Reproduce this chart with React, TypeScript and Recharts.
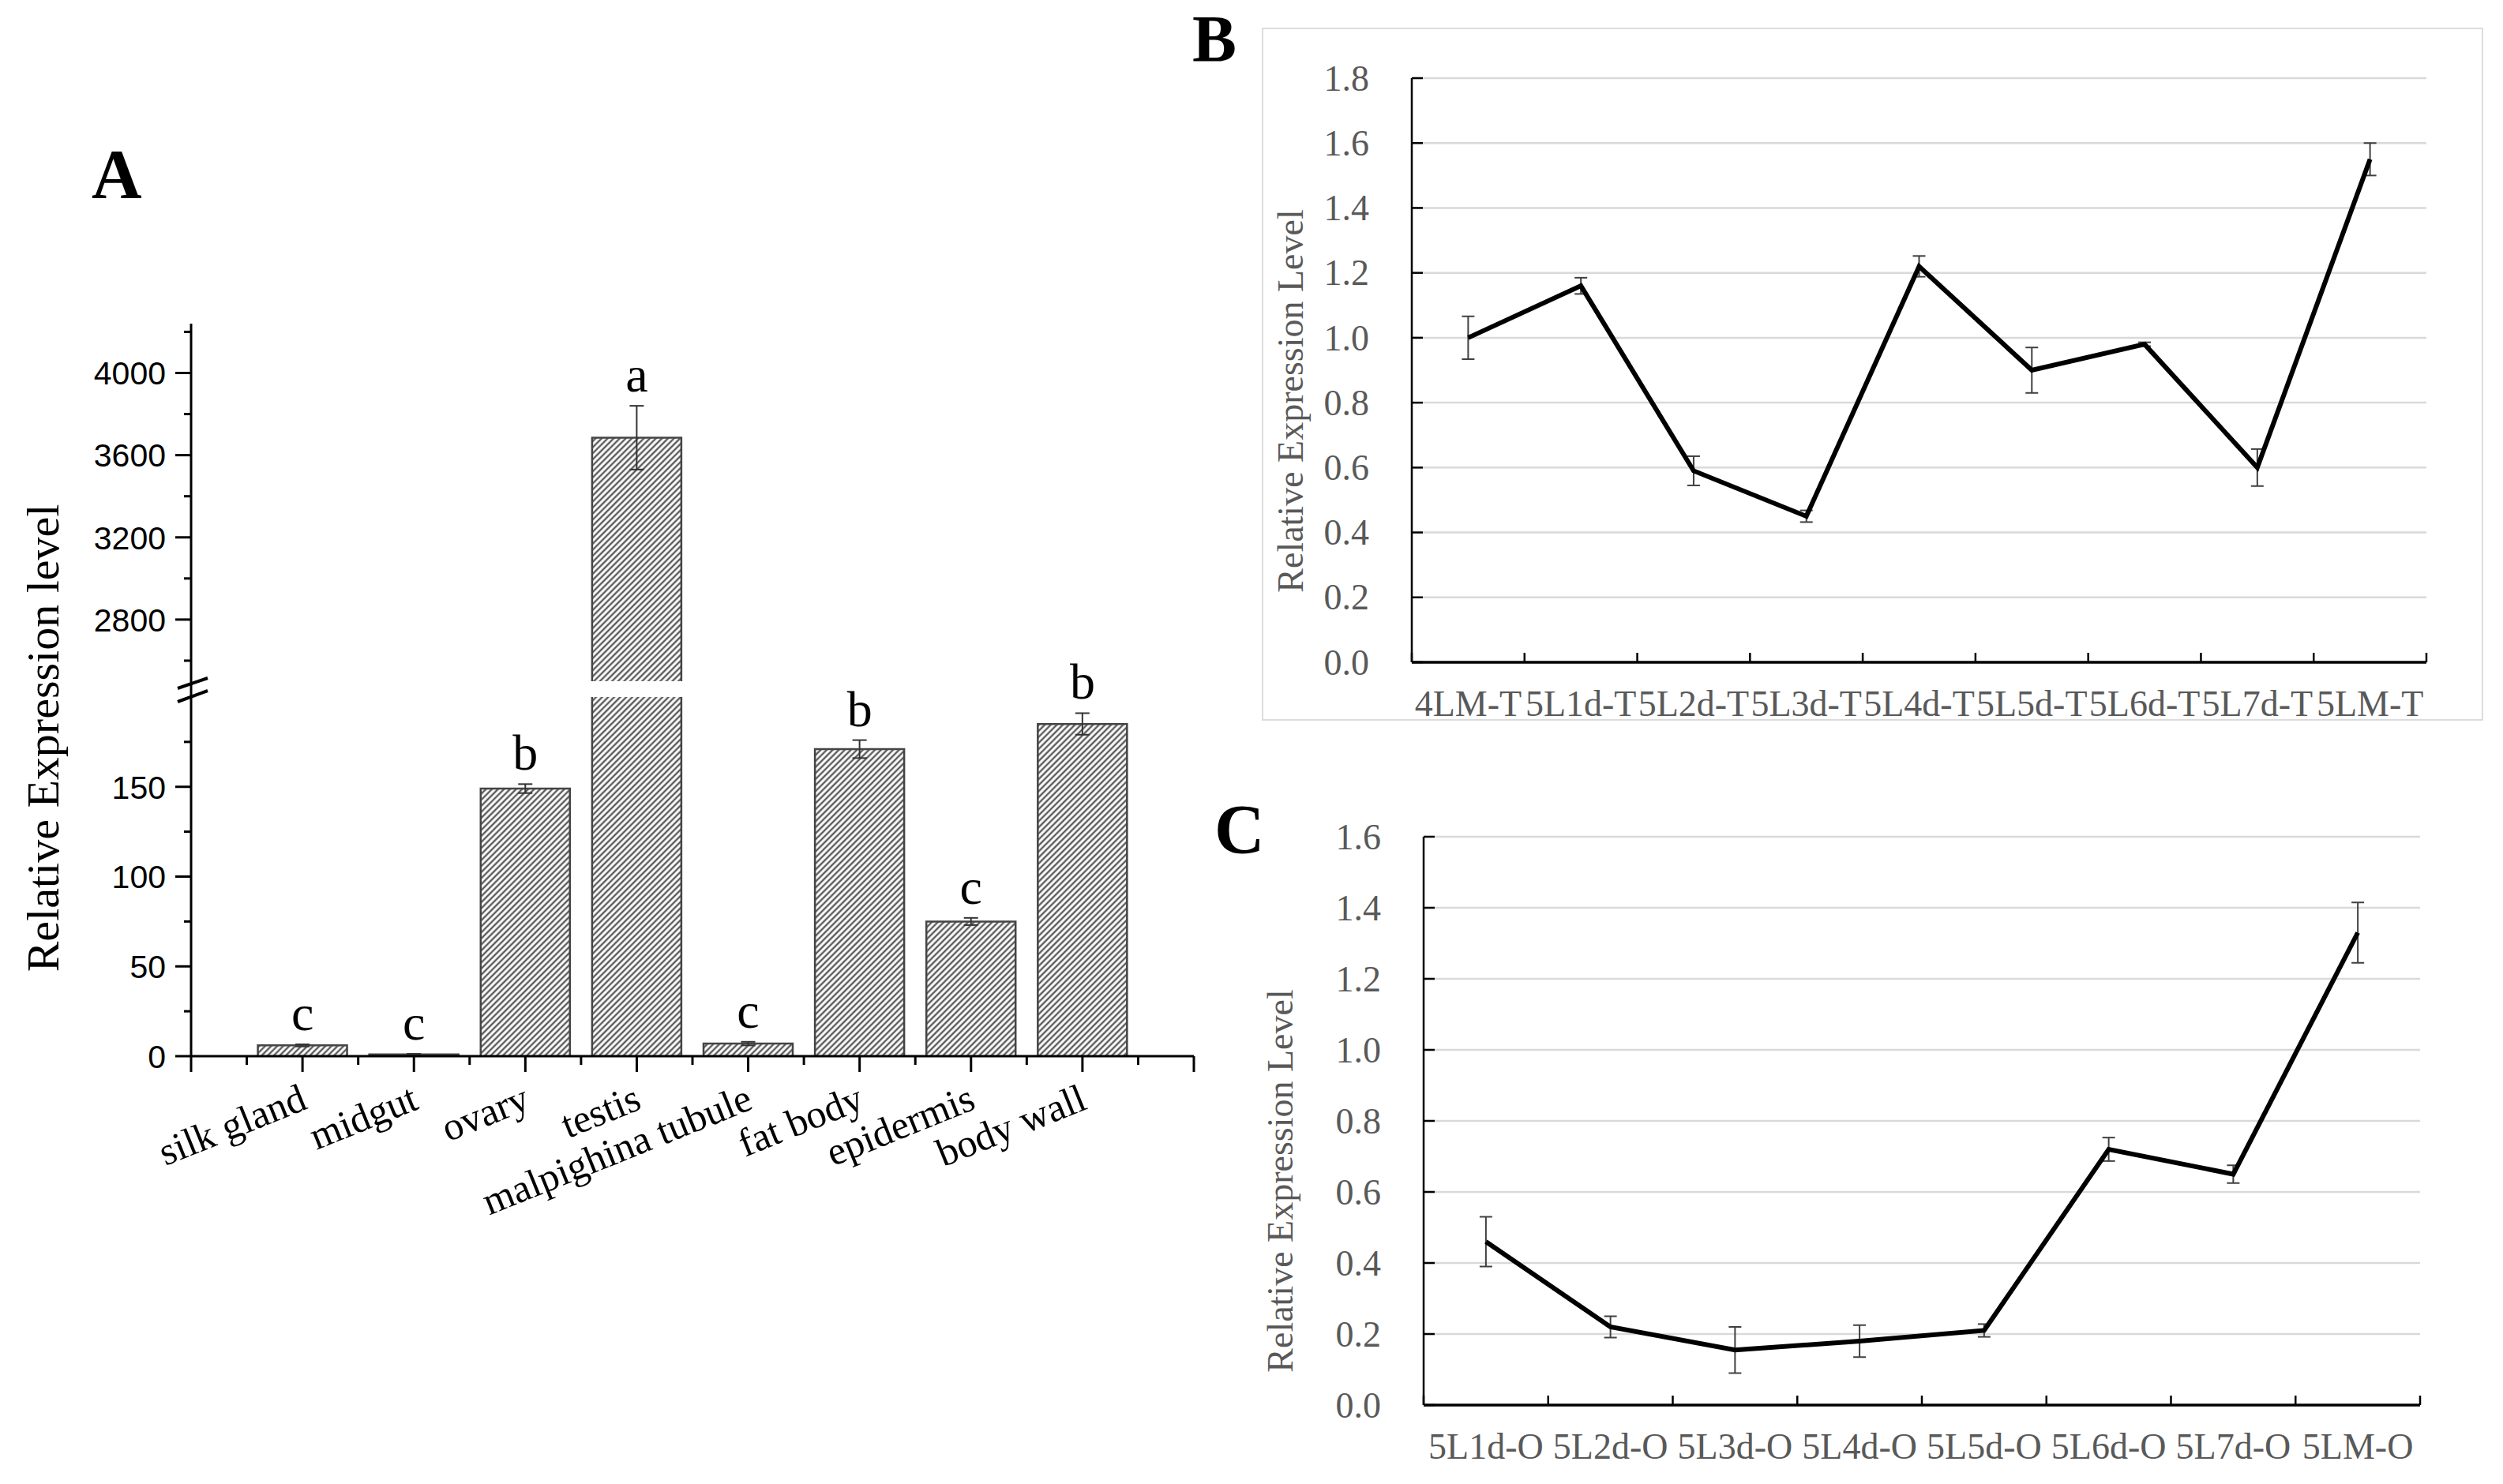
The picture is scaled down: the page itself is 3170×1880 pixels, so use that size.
import React from 'react';
import {
  Bar,
  ComposedChart,
  CartesianGrid,
  ErrorBar,
  LabelList,
  Line,
  XAxis,
  YAxis,
} from 'recharts';

// Panel A: tissue expression (broken y axis)
const tissues = [
  'silk gland',
  'midgut',
  'ovary',
  'testis',
  'malpighina tubule',
  'fat body',
  'epidermis',
  'body wall',
];
const tissueLevel = [6, 1, 149, 3685, 7, 171, 75, 185];
const tissueErr = [0.6, 0.3, 2.5, 155, 1, 5, 2, 6];
const tissueLetters = ['c', 'c', 'b', 'a', 'c', 'b', 'c', 'b'];
const lowTicks = [0, 25, 50, 75, 100, 125, 150, 175];
const highTicks = [2500, 2600, 2800, 3000, 3200, 3400, 3600, 3800, 4000, 4200];
const tissuePosTicks = [0, 0.5, 1, 1.5, 2, 2.5, 3, 3.5, 4, 4.5, 5, 5.5, 6, 6.5, 7, 7.5, 8, 8.5, 9];
const LOW_MAX = 200;

// Panel B: testis time course
const stagesT = ['4LM-T', '5L1d-T', '5L2d-T', '5L3d-T', '5L4d-T', '5L5d-T', '5L6d-T', '5L7d-T', '5LM-T'];
const levelT = [1.0, 1.16, 0.59, 0.45, 1.22, 0.9, 0.98, 0.6, 1.55];
const errT = [0.066, 0.025, 0.045, 0.018, 0.032, 0.07, 0.006, 0.057, 0.05];
const ticksT = [0, 0.2, 0.4, 0.6, 0.8, 1.0, 1.2, 1.4, 1.6, 1.8];

// Panel C: ovary time course
const stagesO = ['5L1d-O', '5L2d-O', '5L3d-O', '5L4d-O', '5L5d-O', '5L6d-O', '5L7d-O', '5LM-O'];
const levelO = [0.46, 0.22, 0.155, 0.18, 0.21, 0.72, 0.65, 1.33];
const errO = [0.07, 0.03, 0.065, 0.045, 0.018, 0.033, 0.025, 0.085];
const ticksO = [0, 0.2, 0.4, 0.6, 0.8, 1.0, 1.2, 1.4, 1.6];

const SERIF = '"Liberation Serif", "Times New Roman", serif';
const SANS = '"Liberation Sans", Arial, sans-serif';
const GRAY_TEXT = '#595959';

const lowRows = tissues.map((name, i) => {
  const over = tissueLevel[i] > LOW_MAX;
  return {
    pos: i + 1,
    name,
    value: tissueLevel[i],
    err: over ? null : tissueErr[i],
    top: over ? null : tissueLevel[i] + tissueErr[i],
  };
});

const highRows = tissues.map((name, i) => {
  const over = tissueLevel[i] > LOW_MAX;
  return {
    pos: i + 1,
    name,
    value: over ? tissueLevel[i] : null,
    err: over ? tissueErr[i] : null,
    top: over ? tissueLevel[i] + tissueErr[i] : null,
  };
});

const rowsT = stagesT.map((name, i) => ({ pos: i + 0.5, name, value: levelT[i], err: errT[i] }));
const rowsO = stagesO.map((name, i) => ({ pos: i + 0.5, name, value: levelO[i], err: errO[i] }));
const ticksPosT = Array.from({ length: stagesT.length * 2 + 1 }, (_, i) => i / 2);
const ticksPosO = Array.from({ length: stagesO.length * 2 + 1 }, (_, i) => i / 2);

function HatchBar(props: any) {
  const { x, y, width, height, fill, value } = props;
  if (value == null || !height || height <= 0) return null;
  return (
    <g>
      <rect x={x} y={y} width={width} height={height} fill={fill} />
      <path
        d={`M${x},${y + height}V${y}H${x + width}V${y + height}`}
        fill="none"
        stroke="#444"
        strokeWidth={2.5}
      />
    </g>
  );
}

function LetterLabel(props: any) {
  const { x, y, value, index } = props;
  if (value == null || x == null || y == null || Number.isNaN(y)) return null;
  return (
    <text x={x} y={y - 18} textAnchor="middle" fontFamily={SERIF} fontSize={64} fill="#000">
      {tissueLetters[index]}
    </text>
  );
}

function TissueTick(props: any) {
  const { x, y, payload } = props;
  const v = payload.value;
  const major = Number.isInteger(v);
  const name = major && v >= 1 && v <= tissues.length ? tissues[v - 1] : null;
  const ax = x + 8;
  const ay = y + 66;
  return (
    <g>
      <line x1={x} x2={x} y1={y} y2={y + (major ? 20 : 11)} stroke="#000" strokeWidth={3} />
      {name && (
        <text
          x={ax}
          y={ay}
          textAnchor="end"
          transform={`rotate(-22, ${ax}, ${ay})`}
          fontFamily={SERIF}
          fontSize={50}
          fill="#000"
        >
          {name}
        </text>
      )}
    </g>
  );
}

function LowTick(props: any) {
  const { x, y, payload } = props;
  const v = payload.value;
  const major = v % 50 === 0;
  return (
    <g>
      <line x1={x - (major ? 20 : 9)} x2={x} y1={y} y2={y} stroke="#000" strokeWidth={3} />
      {major && (
        <text x={x - 32} y={y} dy="0.36em" textAnchor="end" fontFamily={SANS} fontSize={41} fill="#000">
          {v}
        </text>
      )}
    </g>
  );
}

function HighTick(props: any) {
  const { x, y, payload } = props;
  const v = payload.value;
  if (v === highTicks[0]) {
    // axis break marks
    return (
      <g stroke="#000" strokeWidth={4}>
        <line x1={x} x2={x} y1={y} y2={y + 20} strokeWidth={3} />
        <line x1={x - 17} y1={y + 9} x2={x + 21} y2={y - 4} />
        <line x1={x - 17} y1={y + 26} x2={x + 21} y2={y + 12} />
      </g>
    );
  }
  const major = v % 400 === 0;
  return (
    <g>
      <line x1={x - (major ? 20 : 9)} x2={x} y1={y} y2={y} stroke="#000" strokeWidth={3} />
      {major && (
        <text x={x - 32} y={y} dy="0.36em" textAnchor="end" fontFamily={SANS} fontSize={41} fill="#000">
          {v}
        </text>
      )}
    </g>
  );
}

function makeStageTick(names: string[]) {
  return function StageTick(props: any) {
    const { x, y, payload } = props;
    const v = payload.value;
    if (Number.isInteger(v)) {
      return <line x1={x} x2={x} y1={y} y2={y - 12} stroke="#000" strokeWidth={2.5} />;
    }
    return (
      <text x={x} y={y + 68} textAnchor="middle" fontFamily={SERIF} fontSize={46} fill={GRAY_TEXT}>
        {names[Math.floor(v)]}
      </text>
    );
  };
}

function LevelTick(props: any) {
  const { x, y, payload } = props;
  return (
    <g>
      <line x1={x} x2={x + 14} y1={y} y2={y} stroke="#000" strokeWidth={2.5} />
      <text x={x - 54} y={y} dy="0.34em" textAnchor="end" fontFamily={SERIF} fontSize={46} fill={GRAY_TEXT}>
        {Number(payload.value).toFixed(1)}
      </text>
    </g>
  );
}

function HatchDefs({ id }: { id: string }) {
  return (
    <defs>
      <pattern id={id} patternUnits="userSpaceOnUse" width={5.4} height={5.4} patternTransform="rotate(45)">
        <rect width={5.4} height={5.4} fill="#fff" />
        <line x1={2.7} y1={0} x2={2.7} y2={5.4} stroke="#5a5a5a" strokeWidth={2.4} />
      </pattern>
    </defs>
  );
}

function PanelA() {
  return (
    <>
      <div style={{ position: 'absolute', left: 0, top: 0 }}>
        <ComposedChart
          width={1600}
          height={900}
          data={highRows}
          margin={{ top: 410, right: 88, bottom: 37, left: 42 }}
        >
          <HatchDefs id="hatchHigh" />
          <XAxis dataKey="pos" type="number" domain={[0, 9]} ticks={tissuePosTicks} hide />
          <YAxis
            type="number"
            domain={[2500, 4240]}
            ticks={highTicks}
            allowDataOverflow
            width={200}
            interval={0}
            tickSize={0}
            tickMargin={0}
            tickLine={false}
            axisLine={{ stroke: '#000', strokeWidth: 3 }}
            tick={HighTick}
          />
          <Bar
            dataKey="value"
            barSize={113}
            fill="url(#hatchHigh)"
            shape={HatchBar}
            isAnimationActive={false}
          >
            <ErrorBar dataKey="err" width={9} stroke="#333" strokeWidth={2} isAnimationActive={false} />
          </Bar>
          <Line
            dataKey="top"
            stroke="none"
            dot={false}
            activeDot={false}
            isAnimationActive={false}
          >
            <LabelList dataKey="top" content={LetterLabel} />
          </Line>
        </ComposedChart>
      </div>
      <div style={{ position: 'absolute', left: 0, top: 0 }}>
        <ComposedChart
          width={1600}
          height={1700}
          data={lowRows}
          margin={{ top: 883, right: 88, bottom: 62, left: 42 }}
        >
          <HatchDefs id="hatchLow" />
          <XAxis
            dataKey="pos"
            type="number"
            domain={[0, 9]}
            ticks={tissuePosTicks}
            interval={0}
            height={300}
            tickSize={0}
            tickMargin={0}
            tickLine={false}
            axisLine={{ stroke: '#000', strokeWidth: 3 }}
            tick={TissueTick}
          />
          <YAxis
            type="number"
            domain={[0, LOW_MAX]}
            ticks={lowTicks}
            allowDataOverflow
            width={200}
            interval={0}
            tickSize={0}
            tickMargin={0}
            tickLine={false}
            axisLine={{ stroke: '#000', strokeWidth: 3 }}
            tick={LowTick}
          />
          <Bar
            dataKey="value"
            barSize={113}
            fill="url(#hatchLow)"
            shape={HatchBar}
            isAnimationActive={false}
          >
            <ErrorBar dataKey="err" width={9} stroke="#333" strokeWidth={2} isAnimationActive={false} />
          </Bar>
          <Line
            dataKey="top"
            stroke="none"
            dot={false}
            activeDot={false}
            isAnimationActive={false}
          >
            <LabelList dataKey="top" content={LetterLabel} />
          </Line>
        </ComposedChart>
      </div>
    </>
  );
}

function LinePanel({
  rows,
  names,
  ticks,
  posTicks,
  domainMax,
  left,
  top,
  width,
  height,
  margin,
}: {
  rows: { pos: number; name: string; value: number; err: number }[];
  names: string[];
  ticks: number[];
  posTicks: number[];
  domainMax: number;
  left: number;
  top: number;
  width: number;
  height: number;
  margin: { top: number; right: number; bottom: number; left: number };
}) {
  return (
    <div style={{ position: 'absolute', left, top }}>
      <ComposedChart width={width} height={height} data={rows} margin={margin}>
        <CartesianGrid vertical={false} stroke="#d9d9d9" strokeWidth={2.5} />
        <XAxis
          dataKey="pos"
          type="number"
          domain={[0, names.length]}
          ticks={posTicks}
          interval={0}
          height={80}
          tickSize={0}
          tickMargin={0}
          tickLine={false}
          axisLine={{ stroke: '#000', strokeWidth: 3.5 }}
          tick={makeStageTick(names)}
        />
        <YAxis
          type="number"
          domain={[0, domainMax]}
          ticks={ticks}
          interval={0}
          width={250}
          tickSize={0}
          tickMargin={0}
          tickLine={false}
          axisLine={{ stroke: '#000', strokeWidth: 2.5 }}
          tick={LevelTick}
        />
        <Line
          type="linear"
          dataKey="value"
          stroke="#000"
          strokeWidth={6}
          dot={false}
          activeDot={false}
          isAnimationActive={false}
        >
          <ErrorBar dataKey="err" width={8} stroke="#404040" strokeWidth={2} isAnimationActive={false} />
        </Line>
      </ComposedChart>
    </div>
  );
}

export default function App() {
  return (
    <div style={{ position: 'relative', width: 3170, height: 1880, background: '#fff', overflow: 'hidden' }}>
      <style>{'body{margin:0;}'}</style>

      {/* frame around panel B */}
      <div
        style={{
          position: 'absolute',
          left: 1598,
          top: 35,
          width: 3145 - 1598,
          height: 913 - 35,
          border: '2.5px solid #dcdcdc',
          boxSizing: 'border-box',
        }}
      />

      <PanelA />

      <LinePanel
        rows={rowsT}
        names={stagesT}
        ticks={ticksT}
        posTicks={ticksPosT}
        domainMax={1.8}
        left={1500}
        top={0}
        width={1670}
        height={1000}
        margin={{ top: 99, right: 97, bottom: 81, left: 38 }}
      />

      <LinePanel
        rows={rowsO}
        names={stagesO}
        ticks={ticksO}
        posTicks={ticksPosO}
        domainMax={1.6}
        left={1500}
        top={980}
        width={1670}
        height={900}
        margin={{ top: 80, right: 105, bottom: 20, left: 53 }}
      />

      <svg
        width={3170}
        height={1880}
        style={{ position: 'absolute', left: 0, top: 0, pointerEvents: 'none' }}
      >
        <text x={116} y={250} fontFamily={SERIF} fontWeight="bold" fontSize={88} fill="#000">
          A
        </text>
        <text x={1510} y={78} fontFamily={SERIF} fontWeight="bold" fontSize={84} fill="#000">
          B
        </text>
        <text x={1538} y={1080} fontFamily={SERIF} fontWeight="bold" fontSize={88} fill="#000">
          C
        </text>
        <text
          x={74}
          y={935}
          transform="rotate(-90, 74, 935)"
          textAnchor="middle"
          fontFamily={SERIF}
          fontSize={58}
          fill="#000"
        >
          Relative Expression level
        </text>
        <text
          x={1650}
          y={508}
          transform="rotate(-90, 1650, 508)"
          textAnchor="middle"
          fontFamily={SERIF}
          fontSize={46}
          fill={GRAY_TEXT}
        >
          Relative Expression Level
        </text>
        <text
          x={1637}
          y={1496}
          transform="rotate(-90, 1637, 1496)"
          textAnchor="middle"
          fontFamily={SERIF}
          fontSize={46}
          fill={GRAY_TEXT}
        >
          Relative Expression Level
        </text>
      </svg>
    </div>
  );
}
